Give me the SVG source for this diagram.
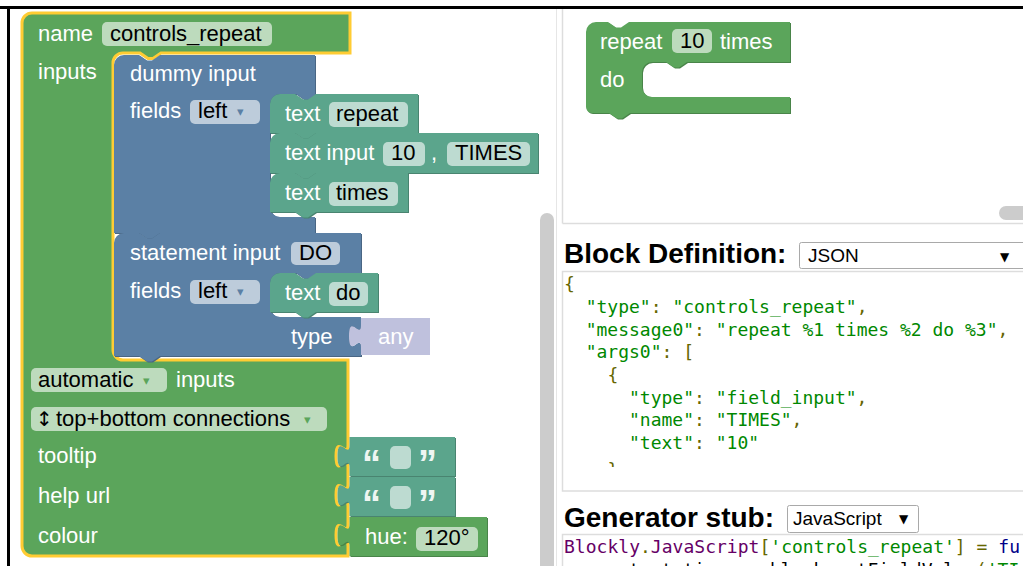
<svg xmlns="http://www.w3.org/2000/svg" width="1023" height="566" viewBox="0 0 1023 566">
  <defs>
    <style>
      .lbl{font-family:"Liberation Sans",Arial,sans-serif;font-size:22px;fill:#fff}
      .fld{font-family:"Liberation Sans",Arial,sans-serif;font-size:22px;fill:#000}
      .pill{fill:#fff;fill-opacity:.6}
      .arrow{font-family:"DejaVu Sans",sans-serif;font-size:13px}
      .quote{font-family:"Liberation Sans",Arial,sans-serif;font-size:38px;font-weight:bold;fill:#eef5f2}
      .green{fill:#5ba55b}
      .green-d{fill:#498449}
      .blue{fill:#5b80a5}
      .blue-d{fill:#496684}
      .teal{fill:#5ba58c}
      .teal-d{fill:#498470}
      .sel{fill:#5ba55b;stroke:#fc3;stroke-width:3}
      .head{font-family:"Liberation Sans",Arial,sans-serif;font-size:28px;font-weight:bold;fill:#000}
      .opt{font-family:"Liberation Sans",Arial,sans-serif;font-size:19px;fill:#000}
      .code{font-family:"DejaVu Sans Mono","Liberation Mono",monospace;font-size:18px}
      .str{fill:#080}.pun{fill:#660}.typ{fill:#606}.kwd{fill:#008}.pln{fill:#000}
      .frame{fill:none;stroke:#ddd;stroke-width:1.5}
      .bar{fill:#ccc}
    </style>
    <clipPath id="jsonClip"><rect x="562" y="271" width="461" height="196"/></clipPath>
  </defs>

  <rect width="1023" height="566" fill="#fff"/>

  <!-- page frame -->
  <rect x="0" y="6" width="1023" height="3" fill="#000"/>
  <rect x="7" y="6" width="3" height="560" fill="#000"/>

  <!-- workspace scrollbar and column divider -->
  <rect class="bar" x="540" y="213" width="14" height="380" rx="7"/>
  <line x1="556.5" y1="9" x2="556.5" y2="566" stroke="#e6e6e6" stroke-width="1"/>

  <!-- factory_base block (selected) -->
  <g id="factory-base">
    <path class="sel" d="M22,23 A10,10 0 0 1 32,13 H350 V53 H161 l-8,5.5 -5,0 -8,-5.5 H123 A10,10 0 0 0 113,63 V350 A10,10 0 0 0 123,360 H348 V445 c0,15 -12,-12 -12,11.25 s12,-3.75 12,11.25 V484 c0,15 -12,-12 -12,11.25 s12,-3.75 12,11.25 V524 c0,15 -12,-12 -12,11.25 s12,-3.75 12,11.25 V556 H32 A10,10 0 0 1 22,546 Z"/>
    <text class="lbl" x="38" y="41">name</text>
    <rect class="pill" x="102" y="22" width="170" height="24" rx="5"/>
    <text class="fld" x="110" y="41">controls_repeat</text>
    <text class="lbl" x="38" y="79">inputs</text>
    <rect class="pill" x="31" y="368" width="136" height="24" rx="5"/>
    <text class="fld" x="38" y="387">automatic</text>
    <text class="arrow" x="143" y="385" fill="#5ba55b">▾</text>
    <text class="lbl" x="176" y="387">inputs</text>
    <rect class="pill" x="31" y="407" width="296" height="24" rx="5"/>
    <text class="fld" x="36" y="426" style="font-family:'DejaVu Sans',sans-serif;font-size:20px">↕</text>
    <text class="fld" x="56" y="426">top+bottom connections</text>
    <text class="arrow" x="304" y="424" fill="#5ba55b">▾</text>
    <text class="lbl" x="38" y="463">tooltip</text>
    <text class="lbl" x="38" y="503">help url</text>
    <text class="lbl" x="38" y="543">colour</text>
  </g>

  <!-- input_dummy block -->
  <g id="input-dummy">
    <path class="blue-d" transform="translate(1,1)" d="M114,65 A10,10 0 0 1 124,55 H139 l8,5.5 5,0 8,-5.5 H315 V94 H317 l-8,5.5 -5,0 -8,-5.5 H280 A10,10 0 0 0 270,104 V207 A10,10 0 0 0 280,217 H315 V233 H160 l-8,5.5 -5,0 -8,-5.5 H114 Z"/>
    <path class="blue" d="M114,65 A10,10 0 0 1 124,55 H139 l8,5.5 5,0 8,-5.5 H315 V94 H317 l-8,5.5 -5,0 -8,-5.5 H280 A10,10 0 0 0 270,104 V207 A10,10 0 0 0 280,217 H315 V233 H160 l-8,5.5 -5,0 -8,-5.5 H114 Z"/>
    <text class="lbl" x="130" y="81">dummy input</text>
    <text class="lbl" x="130" y="118">fields</text>
    <rect class="pill" x="190" y="100" width="70" height="24" rx="5"/>
    <text class="fld" x="198" y="118">left</text>
    <text class="arrow" x="237" y="116" fill="#5b80a5">▾</text>
  </g>

  <!-- field_static "repeat" -->
  <g id="text-repeat">
    <path class="teal-d" transform="translate(1,1)" d="M270,104 A10,10 0 0 1 280,94 H295 l8,5.5 5,0 8,-5.5 H418 V133 H316 l-8,5.5 -5,0 -8,-5.5 H270 Z"/>
    <path class="teal" d="M270,104 A10,10 0 0 1 280,94 H295 l8,5.5 5,0 8,-5.5 H418 V133 H316 l-8,5.5 -5,0 -8,-5.5 H270 Z"/>
    <text class="lbl" x="285" y="121">text</text>
    <rect class="pill" x="329" y="102" width="79" height="25" rx="5"/>
    <text class="fld" x="336" y="121">repeat</text>
  </g>

  <!-- field_input TIMES -->
  <g id="text-input">
    <path class="teal-d" transform="translate(1,1)" d="M270,143 A10,10 0 0 1 280,133 H295 l8,5.5 5,0 8,-5.5 H538 V173 H316 l-8,5.5 -5,0 -8,-5.5 H270 Z"/>
    <path class="teal" d="M270,143 A10,10 0 0 1 280,133 H295 l8,5.5 5,0 8,-5.5 H538 V173 H316 l-8,5.5 -5,0 -8,-5.5 H270 Z"/>
    <text class="lbl" x="285" y="160">text input</text>
    <rect class="pill" x="383" y="142" width="42" height="24" rx="5"/>
    <text class="fld" x="391" y="160">10</text>
    <text class="lbl" x="431" y="160">,</text>
    <rect class="pill" x="447" y="142" width="83" height="24" rx="5"/>
    <text class="fld" x="455" y="160">TIMES</text>
  </g>

  <!-- field_static "times" -->
  <g id="text-times">
    <path class="teal-d" transform="translate(1,1)" d="M270,183 A10,10 0 0 1 280,173 H295 l8,5.5 5,0 8,-5.5 H408 V212 H316 l-8,5.5 -5,0 -8,-5.5 H270 Z"/>
    <path class="teal" d="M270,183 A10,10 0 0 1 280,173 H295 l8,5.5 5,0 8,-5.5 H408 V212 H316 l-8,5.5 -5,0 -8,-5.5 H270 Z"/>
    <text class="lbl" x="285" y="200">text</text>
    <rect class="pill" x="329" y="182" width="69" height="24" rx="5"/>
    <text class="fld" x="336" y="200">times</text>
  </g>

  <!-- input_statement DO -->
  <g id="input-statement">
    <path class="blue-d" transform="translate(1,1)" d="M114,243 A10,10 0 0 1 124,233 H139 l8,5.5 5,0 8,-5.5 H361 V273 H317 l-8,5.5 -5,0 -8,-5.5 H280 A10,10 0 0 0 270,283 V307 A10,10 0 0 0 280,317 H361 V325 c0,15 -12,-12 -12,11.25 s12,-3.75 12,11.25 V356 H160 l-8,5.5 -5,0 -8,-5.5 H114 Z"/>
    <path class="blue" d="M114,243 A10,10 0 0 1 124,233 H139 l8,5.5 5,0 8,-5.5 H361 V273 H317 l-8,5.5 -5,0 -8,-5.5 H280 A10,10 0 0 0 270,283 V307 A10,10 0 0 0 280,317 H361 V325 c0,15 -12,-12 -12,11.25 s12,-3.75 12,11.25 V356 H160 l-8,5.5 -5,0 -8,-5.5 H114 Z"/>
    <text class="lbl" x="130" y="260">statement input</text>
    <rect class="pill" x="291" y="242" width="49" height="23" rx="5"/>
    <text class="fld" x="299" y="260">DO</text>
    <text class="lbl" x="130" y="298">fields</text>
    <rect class="pill" x="190" y="280" width="70" height="24" rx="5"/>
    <text class="fld" x="198" y="298">left</text>
    <text class="arrow" x="237" y="296" fill="#5b80a5">▾</text>
    <text class="lbl" x="291" y="344">type</text>
  </g>

  <!-- field_static "do" -->
  <g id="text-do">
    <path class="teal-d" transform="translate(1,1)" d="M270,283 A10,10 0 0 1 280,273 H295 l8,5.5 5,0 8,-5.5 H378 V312 H316 l-8,5.5 -5,0 -8,-5.5 H270 Z"/>
    <path class="teal" d="M270,283 A10,10 0 0 1 280,273 H295 l8,5.5 5,0 8,-5.5 H378 V312 H316 l-8,5.5 -5,0 -8,-5.5 H270 Z"/>
    <text class="lbl" x="285" y="300">text</text>
    <rect class="pill" x="329" y="282" width="39" height="24" rx="5"/>
    <text class="fld" x="336" y="300">do</text>
  </g>

  <!-- type_null "any" -->
  <g id="type-any">
    <path fill="#bfc1dd" d="M361,318 H430 V355 H361 V347.5 c0,-15 -12,12 -12,-11.25 s12,3.75 12,-11.25 Z"/>
    <text class="lbl" x="378" y="344" fill="#f4f4fb">any</text>
  </g>

  <!-- tooltip text block -->
  <g id="tooltip-text">
    <path class="teal-d" transform="translate(1,1)" d="M349.5,437 H455 V476 H349.5 V467.5 c0,-15 -12,12 -12,-11.25 s12,3.75 12,-11.25 Z"/>
    <path class="teal" d="M349.5,437 H455 V476 H349.5 V467.5 c0,-15 -12,12 -12,-11.25 s12,3.75 12,-11.25 Z"/>
    <text class="quote" x="362" y="477">“</text>
    <rect class="pill" x="390" y="446" width="21" height="23" rx="5"/>
    <text class="quote" x="418" y="477">”</text>
  </g>

  <!-- help url text block -->
  <g id="helpurl-text">
    <path class="teal-d" transform="translate(1,1)" d="M349.5,477 H455 V516 H349.5 V506.5 c0,-15 -12,12 -12,-11.25 s12,3.75 12,-11.25 Z"/>
    <path class="teal" d="M349.5,477 H455 V516 H349.5 V506.5 c0,-15 -12,12 -12,-11.25 s12,3.75 12,-11.25 Z"/>
    <text class="quote" x="362" y="517">“</text>
    <rect class="pill" x="390" y="486" width="21" height="23" rx="5"/>
    <text class="quote" x="418" y="517">”</text>
  </g>

  <!-- colour hue block -->
  <g id="colour-hue">
    <path class="green-d" transform="translate(1,1)" d="M349.5,517 H487 V556 H349.5 V546.5 c0,-15 -12,12 -12,-11.25 s12,3.75 12,-11.25 Z"/>
    <path class="green" d="M349.5,517 H487 V556 H349.5 V546.5 c0,-15 -12,12 -12,-11.25 s12,3.75 12,-11.25 Z"/>
    <text class="lbl" x="365" y="544">hue:</text>
    <rect class="pill" x="416" y="527" width="62" height="24" rx="5"/>
    <text class="fld" x="424" y="545">120°</text>
  </g>

  <!-- preview pane -->
  <g id="preview">
    <line x1="562.5" y1="9" x2="562.5" y2="223.5" stroke="#ddd" stroke-width="1.5"/>
    <line x1="562.5" y1="223.5" x2="1023" y2="223.5" stroke="#ddd" stroke-width="1.5"/>
    <rect class="bar" x="999" y="206" width="40" height="14" rx="7"/>
  </g>

  <g id="preview-repeat">
    <path class="green-d" transform="translate(1,1)" d="M586,32 A10,10 0 0 1 596,22 H608 l8,5.5 5,0 8,-5.5 H790 V62 H687 l-8,5.5 -5,0 -8,-5.5 H652 A10,10 0 0 0 642,72 V87 A10,10 0 0 0 652,97 H790 V113 H630 l-8,5.5 -5,0 -8,-5.5 H592 A6,6 0 0 1 586,107 Z"/>
    <path class="green" d="M586,32 A10,10 0 0 1 596,22 H608 l8,5.5 5,0 8,-5.5 H790 V62 H687 l-8,5.5 -5,0 -8,-5.5 H652 A10,10 0 0 0 642,72 V87 A10,10 0 0 0 652,97 H790 V113 H630 l-8,5.5 -5,0 -8,-5.5 H592 A6,6 0 0 1 586,107 Z"/>
    <text class="lbl" x="600" y="49">repeat</text>
    <rect class="pill" x="672" y="29" width="40" height="24" rx="5"/>
    <text class="fld" x="680" y="48">10</text>
    <text class="lbl" x="720" y="49">times</text>
    <text class="lbl" x="600" y="87">do</text>
  </g>

  <!-- block definition pane -->
  <g id="block-definition">
    <text class="head" x="564" y="263">Block Definition:</text>
    <rect x="799.5" y="242.5" width="240" height="26" rx="2" fill="#fff" stroke="#a9a9a9"/>
    <text class="opt" x="808" y="262">JSON</text>
    <text x="1000" y="261" style="font-family:'DejaVu Sans',sans-serif;font-size:12px" fill="#000">▼</text>
    <rect class="frame" x="562.5" y="271.5" width="480" height="219.5"/>
    <g class="code" clip-path="url(#jsonClip)" xml:space="preserve">
      <text x="564" y="290"><tspan class="pun">{</tspan></text>
      <text x="585.7" y="313"><tspan class="str">"type"</tspan><tspan class="pun">: </tspan><tspan class="str">"controls_repeat"</tspan><tspan class="pun">,</tspan></text>
      <text x="585.7" y="336"><tspan class="str">"message0"</tspan><tspan class="pun">: </tspan><tspan class="str">"repeat %1 times %2 do %3"</tspan><tspan class="pun">,</tspan></text>
      <text x="585.7" y="358"><tspan class="str">"args0"</tspan><tspan class="pun">: [</tspan></text>
      <text x="607.4" y="381"><tspan class="pun">{</tspan></text>
      <text x="629" y="404"><tspan class="str">"type"</tspan><tspan class="pun">: </tspan><tspan class="str">"field_input"</tspan><tspan class="pun">,</tspan></text>
      <text x="629" y="426"><tspan class="str">"name"</tspan><tspan class="pun">: </tspan><tspan class="str">"TIMES"</tspan><tspan class="pun">,</tspan></text>
      <text x="629" y="449"><tspan class="str">"text"</tspan><tspan class="pun">: </tspan><tspan class="str">"10"</tspan></text>
      <text x="607.4" y="476"><tspan class="pun">},</tspan></text>
    </g>
  </g>

  <!-- generator stub pane -->
  <g id="generator-stub">
    <text class="head" x="564" y="527">Generator stub:</text>
    <rect x="787.5" y="505.5" width="131" height="27" rx="2" fill="#fff" stroke="#a9a9a9"/>
    <text class="opt" x="793" y="525">JavaScript</text>
    <text x="899" y="523" style="font-family:'DejaVu Sans',sans-serif;font-size:12px" fill="#000">▼</text>
    <rect class="frame" x="562.5" y="534.5" width="480" height="60"/>
    <g class="code" xml:space="preserve">
      <text x="564" y="553" textLength="456" lengthAdjust="spacing"><tspan class="typ">Blockly</tspan><tspan class="pun">.</tspan><tspan class="typ">JavaScript</tspan><tspan class="pun">[</tspan><tspan class="str">'controls_repeat'</tspan><tspan class="pun">] = </tspan><tspan class="kwd">fu</tspan></text>
      <text x="585.7" y="576"><tspan class="kwd">var</tspan><tspan class="pln"> text_times </tspan><tspan class="pun">=</tspan><tspan class="pln"> block</tspan><tspan class="pun">.</tspan><tspan class="pln">getFieldValue</tspan><tspan class="pun">(</tspan><tspan class="str">'TI</tspan></text>
    </g>
  </g>
</svg>
